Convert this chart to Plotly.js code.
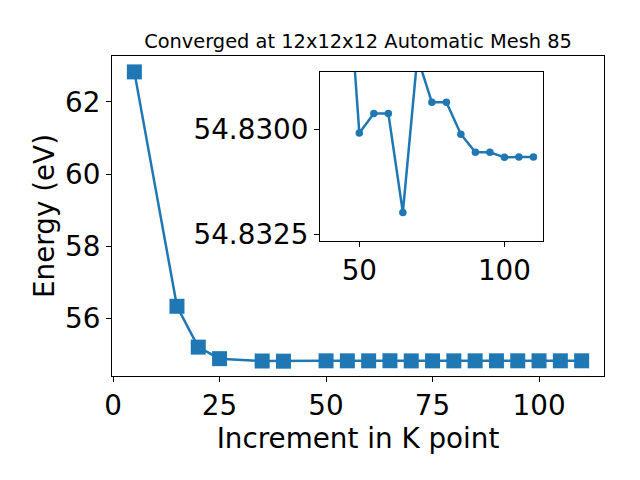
<!DOCTYPE html>
<html>
<head>
<meta charset="utf-8">
<script src="https://cdn.plot.ly/plotly-3.0.1.min.js"></script>
<style>html,body{margin:0;padding:0;background:#fff;}#chart{width:640px;height:480px;}</style>
</head>
<body>
<div id="chart"></div>
<script>
const kpoints = [5, 15, 20, 25, 35, 40, 50, 55, 60, 65, 70, 75, 80, 85, 90, 95, 100, 105, 110];
const energy = [62.83, 56.34, 55.21, 54.89, 54.825, 54.8204, 54.83008, 54.82962, 54.82962, 54.83197, 54.82827, 54.82935, 54.82935, 54.83011, 54.83054, 54.83054, 54.83066, 54.83065, 54.83065];
const mainYTicks = [56, 58, 60, 62];
const mainXTicks = [0, 25, 50, 75, 100];
const insetXTicks = [50, 100];
const insetYTicks = [54.8300, 54.8325];
const insetYTickLabels = ['54.8300', '54.8325'];
const titleText = 'Converged at 12x12x12 Automatic Mesh 85';

const blue = '#1f77b4';
const font = 'DejaVu Sans, sans-serif';
const fs = 27.8;

const traces = [
  {x: kpoints, y: energy, mode: 'lines+markers', type: 'scatter',
   line: {color: blue, width: 2.5},
   marker: {symbol: 'square', size: 15, color: blue},
   xaxis: 'x', yaxis: 'y', showlegend: false, cliponaxis: false},
  {x: kpoints, y: energy, mode: 'lines+markers', type: 'scatter',
   line: {color: blue, width: 2.5},
   marker: {symbol: 'circle', size: 7.5, color: blue},
   xaxis: 'x2', yaxis: 'y2', showlegend: false}
];

const axBase = {showgrid: false, zeroline: false, showline: true, linecolor: '#000', linewidth: 1,
  mirror: true, ticks: 'outside', ticklen: 5, tickwidth: 1, tickcolor: '#000',
  tickfont: {family: font, size: fs, color: '#000'}};

const layout = {
  width: 640, height: 480,
  margin: {l: 112, r: 36, t: 56, b: 104},
  paper_bgcolor: '#fff', plot_bgcolor: '#fff',
  title: {text: titleText, font: {family: font, size: 19.4, color: '#000'}, x: 0.5594, xanchor: 'center', y: 0.915, yanchor: 'middle'},
  xaxis: Object.assign({}, axBase, {range: [-0.25, 115.25], tickvals: mainXTicks,
    title: {text: 'Increment in K point', font: {family: font, size: fs, color: '#000'}, standoff: 2}}),
  yaxis: Object.assign({}, axBase, {range: [54.41, 63.27], tickvals: mainYTicks,
    title: {text: 'Energy (eV)', font: {family: font, size: fs, color: '#000'}, standoff: 2}}),
  xaxis2: Object.assign({}, axBase, {domain: [0.4228, 0.876], range: [36.45, 113.3], tickvals: insetXTicks, anchor: 'y2'}),
  yaxis2: Object.assign({}, axBase, {domain: [0.422, 0.95], range: [54.83265, 54.82863], tickvals: insetYTicks, ticktext: insetYTickLabels, anchor: 'x2'})
};

Plotly.newPlot('chart', traces, layout, {displayModeBar: false, staticPlot: true});
</script>
</body>
</html>
